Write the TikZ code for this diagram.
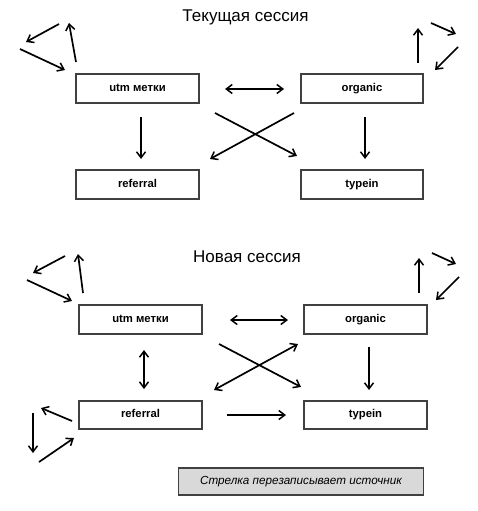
\documentclass[tikz,border=0pt]{standalone}
\usepackage{fontspec}
\setmainfont{Liberation Sans}
\usetikzlibrary{arrows.meta}
\begin{document}
\begin{tikzpicture}[x=1pt,y=-1pt,
  box/.style={draw=black!75,line width=1.7pt,minimum width=123pt,minimum height=29pt,inner sep=0pt,text height=8.2pt,text depth=2.4pt,font=\fontsize{11.3}{13}\selectfont\bfseries},
  hd/.tip={Straight Barb[length=6pt,width=9pt,line width=1.5pt]},
  arr/.style={line width=1.7pt,-hd},
  darr/.style={line width=1.7pt,hd-hd},
  ttl/.style={font=\fontsize{17}{20}\selectfont}]
\useasboundingbox (0,0) rectangle (478,511);
% titles
\node[ttl] (t1) at (245.5,17) {Текущая сессия};
\node[ttl] (t2) at (247,257) {Новая сессия};
% top boxes
\node[box] (utm1) at (137.5,88.5) {utm метки};
\node[box,minimum width=122pt] (org1) at (362,88.5) {organic};
\node[box] (ref1) at (137.5,184.5) {referral};
\node[box,minimum width=122pt] (typ1) at (362,184.5) {typein};
% bottom boxes
\node[box] (utm2) at (140.5,319.5) {utm метки};
\node[box] (org2) at (365.5,319.5) {organic};
\node[box,minimum height=28pt] (ref2) at (140.5,415) {referral};
\node[box,minimum height=28pt] (typ2) at (365.5,415) {typein};
% legend
\node[draw=black!75,line width=1.7pt,fill=black!15,minimum width=245pt,minimum height=27pt,inner sep=0pt,font=\fontsize{11.7}{13}\selectfont\itshape] (leg) at (301,481.5) {Стрелка перезаписывает источник};
% ---- top arrows ----
\coordinate (a1) at (225,89); \coordinate (a2) at (284,89);
\draw[darr] (a1) -- (a2);
\coordinate (b1) at (294,113); \coordinate (b2) at (210,159);
\draw[arr] (b1) -- (b2);
\coordinate (c1) at (215,113); \coordinate (c2) at (297,156);
\draw[arr] (c1) -- (c2);
\coordinate (d1) at (141,117); \coordinate (d2) at (141,159);
\draw[arr] (d1) -- (d2);
\coordinate (e1) at (365,117); \coordinate (e2) at (365,159);
\draw[arr] (e1) -- (e2);
% top-left loop
\coordinate (f1) at (76,62); \coordinate (f2) at (69,23);
\draw[arr] (f1) -- (f2);
\coordinate (g1) at (59,24); \coordinate (g2) at (26,42);
\draw[arr] (g1) -- (g2);
\coordinate (h1) at (20,49); \coordinate (h2) at (65,70);
\draw[arr] (h1) -- (h2);
% top-right loop
\coordinate (i1) at (418,63); \coordinate (i2) at (418,28);
\draw[arr] (i1) -- (i2);
\coordinate (j1) at (431,23); \coordinate (j2) at (456,34);
\draw[arr] (j1) -- (j2);
\coordinate (k1) at (458,47); \coordinate (k2) at (435,70);
\draw[arr] (k1) -- (k2);
% ---- bottom arrows ----
\coordinate (l1) at (230,320); \coordinate (l2) at (288,320);
\draw[darr] (l1) -- (l2);
\coordinate (m1) at (144,350); \coordinate (m2) at (144,389);
\draw[darr] (m1) -- (m2);
\coordinate (n1) at (369,347); \coordinate (n2) at (369,390);
\draw[arr] (n1) -- (n2);
\coordinate (o1) at (227,415); \coordinate (o2) at (286,415);
\draw[arr] (o1) -- (o2);
\coordinate (p1) at (219,344); \coordinate (p2) at (301,387);
\draw[arr] (p1) -- (p2);
\coordinate (q1) at (214,390); \coordinate (q2) at (298,344);
\draw[darr] (q1) -- (q2);
% bottom-left upper loop
\coordinate (r1) at (83,293); \coordinate (r2) at (78,254);
\draw[arr] (r1) -- (r2);
\coordinate (s1) at (65,256); \coordinate (s2) at (33,273);
\draw[arr] (s1) -- (s2);
\coordinate (u1) at (27,280); \coordinate (u2) at (72,301);
\draw[arr] (u1) -- (u2);
% bottom-left lower loop
\coordinate (v1) at (72,421); \coordinate (v2) at (41,408);
\draw[arr] (v1) -- (v2);
\coordinate (w1) at (33,413); \coordinate (w2) at (33,453);
\draw[arr] (w1) -- (w2);
\coordinate (x1) at (39,462); \coordinate (x2) at (74,438);
\draw[arr] (x1) -- (x2);
% bottom-right loop
\coordinate (y1) at (419,293); \coordinate (y2) at (419,258);
\draw[arr] (y1) -- (y2);
\coordinate (z1) at (432,253); \coordinate (z2) at (456,264);
\draw[arr] (z1) -- (z2);
\coordinate (zz1) at (459,277); \coordinate (zz2) at (436,300);
\draw[arr] (zz1) -- (zz2);
\end{tikzpicture}
\end{document}
